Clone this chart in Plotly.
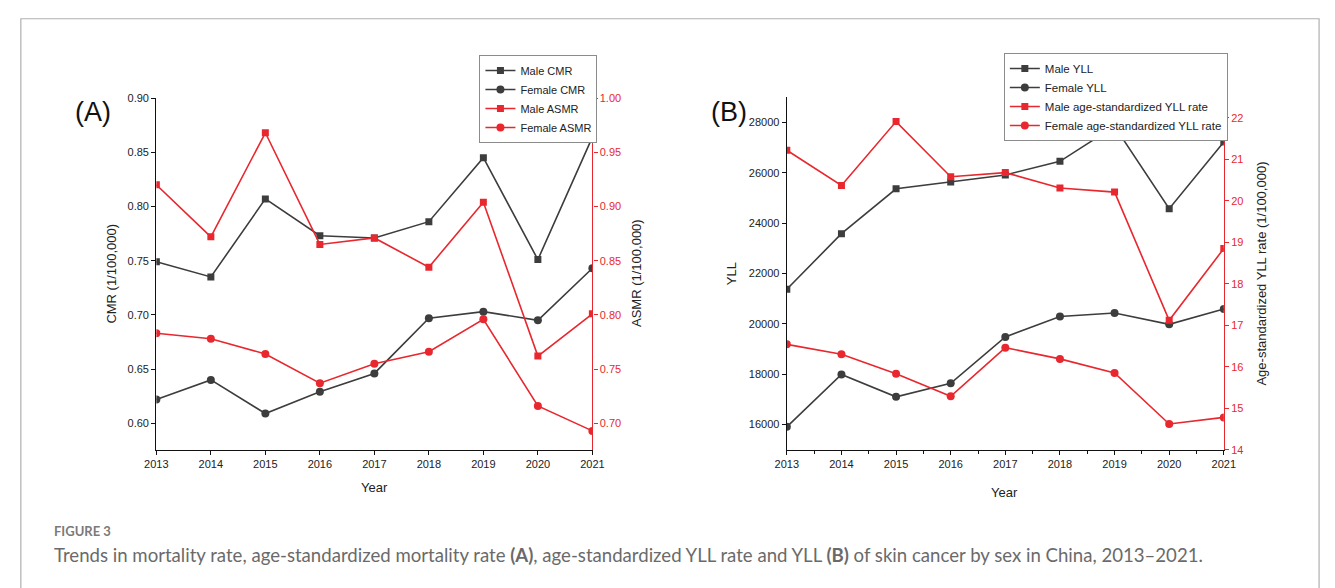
import plotly.graph_objects as go

# ---------------- data ----------------
years = [2013, 2014, 2015, 2016, 2017, 2018, 2019, 2020, 2021]

male_cmr = [0.749, 0.735, 0.807, 0.773, 0.771, 0.786, 0.845, 0.751, 0.864]
female_cmr = [0.622, 0.640, 0.609, 0.629, 0.646, 0.697, 0.703, 0.695, 0.743]
male_asmr = [0.920, 0.872, 0.968, 0.865, 0.871, 0.844, 0.904, 0.762, 0.801]
female_asmr = [0.783, 0.778, 0.764, 0.737, 0.755, 0.766, 0.796, 0.716, 0.693]

male_yll = [21370, 23580, 25360, 25630, 25910, 26450, 27840, 24570, 27220]
female_yll = [15910, 17990, 17100, 17640, 19480, 20290, 20430, 19980, 20590]
male_yll_rate = [21.22, 20.37, 21.91, 20.58, 20.68, 20.31, 20.21, 17.12, 18.85]
female_yll_rate = [16.54, 16.30, 15.83, 15.29, 16.46, 16.19, 15.85, 14.62, 14.78]

cmr_ticks = [0.60, 0.65, 0.70, 0.75, 0.80, 0.85, 0.90]
asmr_ticks = [0.70, 0.75, 0.80, 0.85, 0.90, 0.95, 1.00]
yll_ticks = [16000, 18000, 20000, 22000, 24000, 26000, 28000]
rate_ticks = [14, 15, 16, 17, 18, 19, 20, 21, 22]

# ---------------- style ----------------
W, H = 1335, 588
DARK = "#3d3d3d"
RED = "#e8282e"
FONT = "Liberation Sans, Arial, sans-serif"
CAPFONT = "Lato, Open Sans, sans-serif"


def fx(px):
    return px / W


def fy(py):
    return 1 - py / H


fig = go.Figure()


def add_line(x, y, name, color, symbol, xa, ya, legend):
    fig.add_trace(go.Scatter(
        x=x, y=y, name=name, mode="lines+markers",
        line=dict(color=color, width=1.6),
        marker=dict(symbol=symbol, size=8 if symbol == "circle" else 7, color=color),
        xaxis=xa, yaxis=ya, legend=legend, cliponaxis=True,
    ))


add_line(years, male_cmr, "Male CMR", DARK, "square", "x", "y", "legend")
add_line(years, female_cmr, "Female CMR", DARK, "circle", "x", "y", "legend")
add_line(years, male_asmr, "Male ASMR", RED, "square", "x", "y2", "legend")
add_line(years, female_asmr, "Female ASMR", RED, "circle", "x", "y2", "legend")

add_line(years, male_yll, "Male YLL", DARK, "square", "x2", "y3", "legend2")
add_line(years, female_yll, "Female YLL", DARK, "circle", "x2", "y3", "legend2")
add_line(years, male_yll_rate, "Male age-standardized YLL rate", RED, "square", "x2", "y4", "legend2")
add_line(years, female_yll_rate, "Female age-standardized YLL rate", RED, "circle", "x2", "y4", "legend2")

axis_common = dict(showline=True, linewidth=1.3, ticks="outside", ticklen=4,
                   tickwidth=1.2, showgrid=False, zeroline=False,
                   tickfont=dict(size=11, family=FONT, color="#222"))

xa_common = dict(axis_common, range=[2013, 2021], tickvals=years, linecolor="#111",
                 tickcolor="#111")

yA_dom = [fy(453), fy(94)]
yB_dom = [fy(453), fy(93)]

fig.update_layout(
    width=W, height=H,
    margin=dict(l=0, r=0, t=0, b=0),
    paper_bgcolor="white", plot_bgcolor="white",
    showlegend=True,
    xaxis=dict(xa_common, domain=[fx(147), fx(591)], anchor="y"),
    yaxis=dict(axis_common, domain=yA_dom, anchor="x", range=[0.5756, 0.90],
               tickvals=cmr_ticks, tickformat=".2f", linecolor="#111", tickcolor="#111"),
    yaxis2=dict(axis_common, overlaying="y", side="right", anchor="x",
                range=[0.6756, 1.00], tickvals=asmr_ticks, tickformat=".2f",
                linecolor=RED, tickcolor=RED,
                tickfont=dict(size=11, family=FONT, color=RED)),
    xaxis2=dict(xa_common, domain=[fx(789), fx(1234)], anchor="y3",
                minor=dict(ticks="outside", dtick=0.5, ticklen=3, tickcolor="#111", tickwidth=1.2)),
    yaxis3=dict(axis_common, domain=yB_dom, anchor="x2", range=[15000, 29000],
                tickvals=yll_ticks, tickformat="d", linecolor="#111", tickcolor="#111"),
    yaxis4=dict(axis_common, overlaying="y3", side="right", anchor="x2",
                range=[14, 22.5], tickvals=rate_ticks,
                linecolor=RED, tickcolor=RED,
                tickfont=dict(size=11, family=FONT, color=RED)),
    legend=dict(x=fx(476), y=fy(50), xanchor="left", yanchor="top",
                bgcolor="white", bordercolor="#8c8c8c", borderwidth=1,
                font=dict(size=11, family=FONT, color="#222"),
                tracegroupgap=0, itemwidth=30),
    legend2=dict(x=fx(1010), y=fy(48), xanchor="left", yanchor="top",
                 bgcolor="white", bordercolor="#8c8c8c", borderwidth=1,
                 font=dict(size=11.5, family=FONT, color="#222"),
                 tracegroupgap=0, itemwidth=30),
)

# outer frame of the figure panel
fig.add_shape(type="rect", xref="paper", yref="paper",
              x0=fx(9), x1=fx(1331), y0=fy(13), y1=-0.05,
              line=dict(color="#b0b0b0", width=1.2), fillcolor="rgba(0,0,0,0)", layer="below")

ann = []


def text(x, y, s, size, color="#222", family=FONT, xanchor="center", angle=0, yanchor="middle"):
    ann.append(dict(x=fx(x), y=fy(y), xref="paper", yref="paper", text=s, showarrow=False,
                    xanchor=xanchor, yanchor=yanchor, textangle=angle,
                    font=dict(size=size, color=color, family=family)))


text(82, 108, "(A)", 27, "#111")
text(730, 108, "(B)", 27, "#111")
text(101, 273, "CMR (1/100,000)", 13, "#222", angle=-90)
text(636, 273, "ASMR (1/100,000)", 13, "#222", angle=-90)
text(733, 273, "YLL", 13, "#222", angle=-90)
text(1272, 273, "Age-standardized YLL rate (1/100,000)", 13, "#222", angle=-90)
text(369, 492, "Year", 13, "#222")
text(1011, 497, "Year", 13, "#222")
text(41, 536, "<b>FIGURE 3</b>", 13, "#7a7a7a", family=CAPFONT, xanchor="left")
text(41, 560, "Trends in mortality rate, age-standardized mortality rate <b>(A)</b>, "
              "age-standardized YLL rate and YLL <b>(B)</b> of skin cancer by sex in China, 2013\u20132021.",
     18.6, "#6a6a6a", family=CAPFONT, xanchor="left")

fig.update_layout(annotations=ann)

fig.write_html("out.html", config={"displayModeBar": False},
               post_script="document.body.style.margin='0';")
